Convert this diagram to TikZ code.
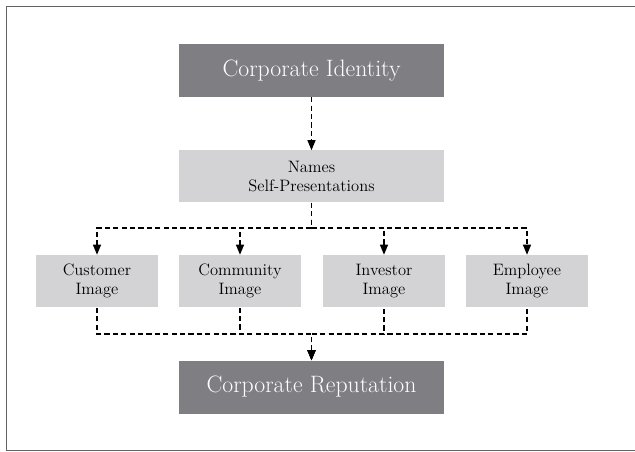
\documentclass[tikz,border=0pt]{standalone}
\usetikzlibrary{arrows.meta}
\definecolor{darkbox}{RGB}{126,126,131}
\definecolor{lightbox}{RGB}{211,211,213}
\definecolor{framegray}{RGB}{100,100,102}
\tikzset{
  headbox/.style={fill=darkbox, text=white, minimum width=198.75pt, minimum height=39.75pt, inner sep=0pt, font=\fontsize{17.8}{20}\selectfont},
  midbox/.style={fill=lightbox, minimum width=198.75pt, minimum height=39pt, inner sep=0pt, align=center, font=\fontsize{12.4}{13.8}\selectfont},
  imgbox/.style={fill=lightbox, minimum width=91.5pt, minimum height=39pt, inner sep=0pt, align=center, font=\fontsize{12.4}{13.8}\selectfont},
  conn/.style={line width=0.8pt, dash pattern=on 3.9pt off 2.4pt, -{Triangle[length=7.5pt,width=6pt]}},
  connback/.style={line width=0.8pt, dash pattern=on 3.9pt off 2.4pt, {Triangle[length=7.5pt,width=6pt]}-}
}
\begin{document}
\begin{tikzpicture}[x=0.75pt,y=0.75pt,yscale=-1,xscale=1]
        \useasboundingbox (0,0) rectangle (635,452);
        %Shape: Frame
        \draw [color=framegray, line width=1.2pt]  (635,6.5) -- (6.5,6.5) -- (6.5,450.5) -- (635,450.5) ;
        % Text Node
        \node (ident) at (311.5,70.5) [headbox] {Corporate Identity};
        % Text Node
        \node (names) at (311.5,176.5) [midbox] {Names\\Self-Presentations};
        % Text Node
        \node (cust) at (97,281) [imgbox] {Customer\\Image};
        % Text Node
        \node (comm) at (240,281) [imgbox] {Community\\Image};
        % Text Node
        \node (inv) at (384,281) [imgbox] {Investor\\Image};
        % Text Node
        \node (empl) at (527,281) [imgbox] {Employee\\Image};
        % Text Node
        \node (rep) at (311.5,387) [headbox] {Corporate Reputation};
        \coordinate (split) at (311.5,228);
        \coordinate (join) at (311.5,334);
        %Straight Lines
        \draw [conn]  (ident.south) -- (names.north) ;
        \foreach \img in {cust,comm,inv,empl} {
          \draw [conn]  (names.south) -- (split) -| (\img.north) ;
          \draw [connback]  (rep.north) -- (join) -| (\img.south) ;
        }
\end{tikzpicture}
\end{document}
